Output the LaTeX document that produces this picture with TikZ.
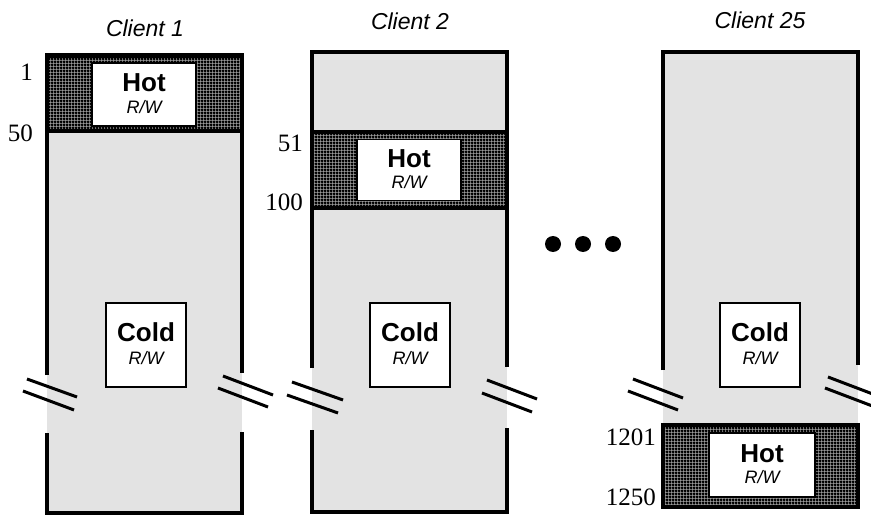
\documentclass[tikz,border=0pt]{standalone}
\usepackage{fontspec}
\setmainfont{Liberation Serif}
\setsansfont{Liberation Sans}
\usetikzlibrary{calc,patterns.meta}
\tikzdeclarepattern{
  name=hotgrid,
  type=uncolored,
  bounding box={(0pt,0pt) and (3pt,3pt)},
  tile size={(3pt,3pt)},
  code={
    \pgfsetlinewidth{1.7pt}
    \pgfpathmoveto{\pgfqpoint{-0.1pt}{1.5pt}}\pgfpathlineto{\pgfqpoint{3.1pt}{1.5pt}}
    \pgfpathmoveto{\pgfqpoint{1.5pt}{-0.1pt}}\pgfpathlineto{\pgfqpoint{1.5pt}{3.1pt}}
    \pgfusepath{stroke}
  }
}
\begin{document}
\begin{tikzpicture}[x=1pt,y=-1pt,
  colfill/.style={fill=black!11},
  border/.style={line width=3.2pt},
  hotband/.style={draw,line width=3.6pt,preaction={fill=black!40},pattern={hotgrid},pattern color=black},
  whitebox/.style={draw,line width=1.4pt,fill=white,inner sep=0pt},
  hottxt/.style={font=\sffamily\bfseries\fontsize{26}{26}\selectfont,inner sep=0pt},
  rwtxt/.style={font=\sffamily\itshape\fontsize{18}{18}\selectfont,inner sep=0pt},
  numtxt/.style={font=\fontsize{25}{25}\selectfont,anchor=east,inner sep=0pt},
  clienttxt/.style={font=\sffamily\itshape\fontsize{23}{23}\selectfont,inner sep=0pt},
  brk/.style={line width=3pt},
  dot/.style={circle,fill=black,minimum size=16pt,inner sep=0pt}]
\useasboundingbox (0,0) rectangle (871,516);

% ---------- Client 1 ----------
\node[clienttxt] (c1) at (145,28) {Client 1};
\fill[colfill] (47,55) rectangle (242,513);
\draw[border] (47,375) -- (47,55) -- (242,55) -- (242,373);
\draw[border] (47,433) -- (47,513) -- (242,513) -- (242,432);
\draw[hotband] (47,56) rectangle (242,131);
\node[whitebox,minimum width=104pt,minimum height=63pt] (h1) at (144,94.5) {};
\node[hottxt] (h1a) at ($(h1.center)+(0,-12)$) {Hot};
\node[rwtxt] (h1b) at ($(h1.center)+(0,13)$) {R/W};
\node[whitebox,minimum width=80pt,minimum height=84pt] (k1) at (146,345) {};
\node[hottxt] (k1a) at ($(k1.center)+(0,-13)$) {Cold};
\node[rwtxt] (k1b) at ($(k1.center)+(0,13)$) {R/W};
\node[numtxt] (n1) at (33,72) {1};
\node[numtxt] (n50) at (33,133) {50};
\draw[brk] (27,379) -- (77,397);
\draw[brk] (23,391) -- (74,410);
\draw[brk] (223,376) -- (273,395);
\draw[brk] (218,388) -- (268,407);

% ---------- Client 2 ----------
\node[clienttxt] (c2) at (410,21) {Client 2};
\fill[colfill] (312,52) rectangle (507,512);
\draw[border] (312,368) -- (312,52) -- (507,52) -- (507,367);
\draw[border] (312,430) -- (312,512) -- (507,512) -- (507,428);
\draw[hotband] (312,132) rectangle (507,208);
\node[whitebox,minimum width=104pt,minimum height=61pt] (h2) at (409,170) {};
\node[hottxt] (h2a) at ($(h2.center)+(0,-11.5)$) {Hot};
\node[rwtxt] (h2b) at ($(h2.center)+(0,12)$) {R/W};
\node[whitebox,minimum width=80pt,minimum height=84pt] (k2) at (410,345) {};
\node[hottxt] (k2a) at ($(k2.center)+(0,-13)$) {Cold};
\node[rwtxt] (k2b) at ($(k2.center)+(0,13)$) {R/W};
\node[numtxt] (n51) at (303,143) {51};
\node[numtxt] (n100) at (303,202) {100};
\draw[brk] (292,382) -- (343,400);
\draw[brk] (287,395) -- (338,413);
\draw[brk] (487,380) -- (537,399);
\draw[brk] (482,393) -- (532,412);

% ---------- dots ----------
\node[dot] (d1) at (553,244) {};
\node[dot] (d2) at (583,244) {};
\node[dot] (d3) at (613,244) {};

% ---------- Client 25 ----------
\node[clienttxt] (c25) at (760,20) {Client 25};
\fill[colfill] (663,52) rectangle (858,507);
\draw[border] (663,370) -- (663,52) -- (858,52) -- (858,365);
\draw[hotband] (663,425) rectangle (858,507);
\node[whitebox,minimum width=106pt,minimum height=64pt] (h3) at (762,465) {};
\node[hottxt] (h3a) at ($(h3.center)+(0,-11)$) {Hot};
\node[rwtxt] (h3b) at ($(h3.center)+(0,12)$) {R/W};
\node[whitebox,minimum width=80pt,minimum height=84pt] (k3) at (760,345) {};
\node[hottxt] (k3a) at ($(k3.center)+(0,-13)$) {Cold};
\node[rwtxt] (k3b) at ($(k3.center)+(0,13)$) {R/W};
\node[numtxt] (n1201) at (656,437) {1201};
\node[numtxt] (n1250) at (656,497) {1250};
\draw[brk] (633,379) -- (683,398);
\draw[brk] (628,391) -- (678,410);
\draw[brk] (828,377) -- (878,396);
\draw[brk] (825,388) -- (875,407);
\end{tikzpicture}
\end{document}
